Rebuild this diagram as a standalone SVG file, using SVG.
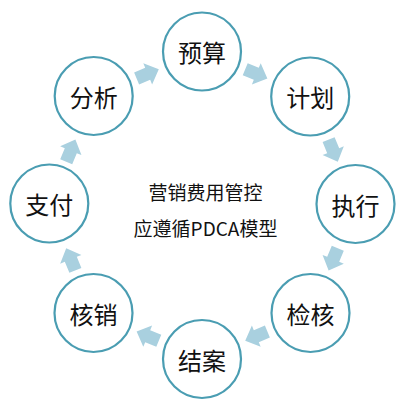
<svg xmlns="http://www.w3.org/2000/svg" width="405" height="407" viewBox="0 0 405 407">
<style>
.node circle{fill:#ffffff;stroke:#4a9db2;stroke-width:2.2}
.node text{font-family:"Noto Sans CJK SC","Microsoft YaHei",sans-serif;font-size:24px;fill:#111;text-anchor:middle;dominant-baseline:central}
.arr{fill:#a9d0df}
.center{font-family:"Noto Sans CJK SC",sans-serif;font-size:19px;fill:#111;text-anchor:middle;dominant-baseline:central}
</style>
<defs>
<path id="ar" class="arr" d="M-12,-6.5 H0 V-11.5 L12,0 L0,11.5 V6.5 H-12 Z"/>
</defs>
<rect width="405" height="407" fill="#ffffff"/>
<g id="connectors">
<use href="#ar" transform="translate(256.3,73.8) rotate(22.5)"/>
<use href="#ar" transform="translate(333.2,150.7) rotate(67.5)"/>
<use href="#ar" transform="translate(333.2,259.3) rotate(112.5)"/>
<use href="#ar" transform="translate(256.3,336.2) rotate(157.5)"/>
<use href="#ar" transform="translate(147.7,336.2) rotate(202.5)"/>
<use href="#ar" transform="translate(70.8,259.3) rotate(247.5)"/>
<use href="#ar" transform="translate(70.8,150.7) rotate(292.5)"/>
<use href="#ar" transform="translate(147.7,73.8) rotate(337.5)"/>
</g>
<g id="n-yusuan" class="node"><circle cx="202" cy="51.5" r="39"/><text x="202" y="51.5">预算</text></g>
<g id="n-jihua" class="node"><circle cx="310.2" cy="96.5" r="39"/><text x="310.2" y="96.5">计划</text></g>
<g id="n-zhixing" class="node"><circle cx="355.5" cy="204" r="39"/><text x="355.5" y="204">执行</text></g>
<g id="n-jianhe" class="node"><circle cx="310.5" cy="313" r="39"/><text x="310.5" y="313">检核</text></g>
<g id="n-jiean" class="node"><circle cx="202" cy="359" r="39"/><text x="202" y="359">结案</text></g>
<g id="n-hexiao" class="node"><circle cx="93.5" cy="313" r="39"/><text x="93.5" y="313">核销</text></g>
<g id="n-zhifu" class="node"><circle cx="49.3" cy="203.5" r="39"/><text x="49.3" y="203.5">支付</text></g>
<g id="n-fenxi" class="node"><circle cx="93.7" cy="96" r="39"/><text x="93.7" y="96">分析</text></g>
<g id="center">
<text class="center" x="205.5" y="191">营销费用管控</text>
<text class="center" x="205.5" y="227">应遵循PDCA模型</text>
</g>
</svg>
